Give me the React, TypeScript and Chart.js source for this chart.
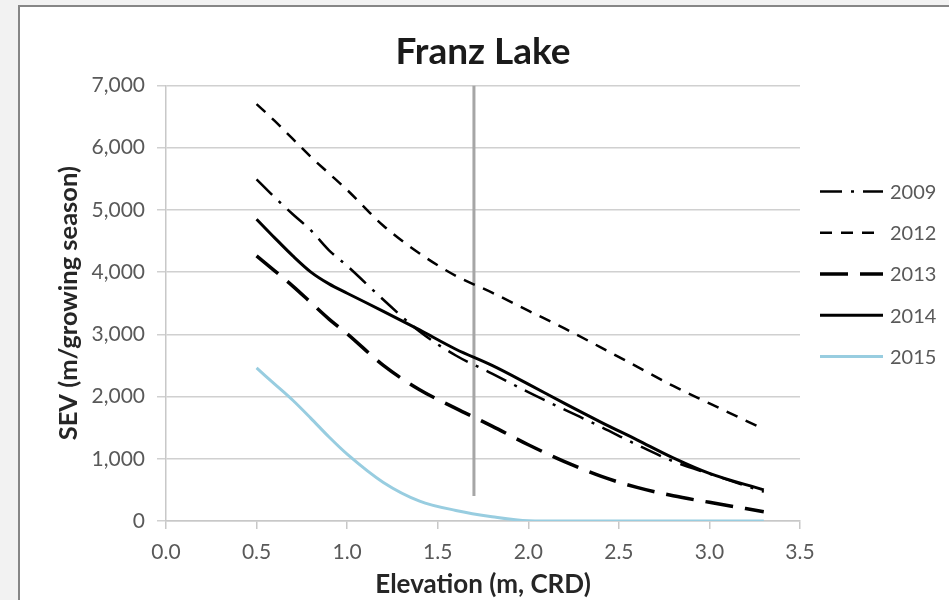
import React, { useEffect, useRef } from "react";
import { Chart, registerables } from "chart.js";

Chart.register(...registerables);

// ---- data ----
const elevation = [0.5, 0.6, 0.7, 0.8, 0.9, 1.0, 1.2, 1.4, 1.6, 1.8, 2.0, 2.2, 2.4, 2.6, 2.8, 3.0, 3.3];
const sev2009 = [5490, 5200, 4930, 4670, 4350, 4100, 3555, 3045, 2660, 2370, 2070, 1790, 1515, 1225, 960, 760, 470];
const sev2012 = [6700, 6430, 6140, 5850, 5585, 5320, 4745, 4300, 3940, 3670, 3380, 3095, 2790, 2480, 2170, 1890, 1475];
const sev2013 = [4260, 4020, 3775, 3510, 3245, 3010, 2500, 2110, 1810, 1525, 1225, 955, 720, 540, 405, 300, 150];
const sev2014 = [4850, 4550, 4260, 4000, 3810, 3660, 3370, 3070, 2760, 2500, 2200, 1890, 1590, 1305, 1015, 765, 500];
const sev2015 = [2460, 2200, 1940, 1650, 1350, 1075, 620, 320, 170, 70, 5, 0, 0, 0, 0, 0, 0];
const years = ["2009", "2012", "2013", "2014", "2015"];

const refElevation = [1.7, 1.7];
const refSev = [400, 7000];

const xTickValues = [0, 0.5, 1.0, 1.5, 2.0, 2.5, 3.0, 3.5];
const yTickValues = [0, 1000, 2000, 3000, 4000, 5000, 6000, 7000];

const chartTitle = "Franz Lake";
const xTitle = "Elevation (m, CRD)";
const yTitle = "SEV (m/growing season)";

const pts = (xs: number[], ys: number[]) => xs.map((x, i) => ({ x, y: ys[i] }));

const frame = {
  id: "frame",
  beforeDraw(chart: any) {
    const ctx = chart.ctx;
    const w = chart.width;
    const h = chart.height;
    ctx.save();
    ctx.fillStyle = "#f2f2f2";
    ctx.fillRect(0, 0, w, h);
    ctx.fillStyle = "#ffffff";
    ctx.fillRect(18, 5, w, h);
    ctx.fillStyle = "#868686";
    ctx.fillRect(18, 5, 2, h);
    ctx.fillRect(18, 5, w, 2);
    ctx.restore();
  },
};

const sideLegend = {
  id: "sideLegend",
  afterDraw(chart: any) {
    const ctx = chart.ctx;
    const { right, top } = chart.chartArea;
    const items = chart.data.datasets.filter((d: any) => d.inLegend);
    ctx.save();
    items.forEach((ds: any, i: number) => {
      const y = top + 106 + i * 41.3;
      const x0 = right + 20;
      ctx.beginPath();
      ctx.setLineDash(ds.borderDash || []);
      ctx.lineWidth = ds.borderWidth;
      ctx.strokeStyle = ds.borderColor;
      ctx.moveTo(x0, y);
      ctx.lineTo(x0 + 63, y);
      ctx.stroke();
      ctx.setLineDash([]);
      ctx.fillStyle = "#595959";
      ctx.font = "20px Lato";
      ctx.textBaseline = "middle";
      ctx.textAlign = "left";
      ctx.fillText(ds.label, x0 + 70, y + 1);
    });
    ctx.restore();
  },
};

export default function App() {
  const ref = useRef<HTMLCanvasElement | null>(null);

  useEffect(() => {
    if (!ref.current) return;
    const series = [sev2009, sev2012, sev2013, sev2014, sev2015];
    const styles = [
      { color: "#000000", width: 2.5, dash: [22, 9, 3, 9] },
      { color: "#000000", width: 2.5, dash: [12, 9] },
      { color: "#000000", width: 3.5, dash: [28, 12] },
      { color: "#000000", width: 3, dash: [] as number[] },
      { color: "#98cde0", width: 3, dash: [] as number[] },
    ];
    const datasets: any[] = series.map((s, i) => ({
      label: years[i],
      data: pts(elevation, s),
      borderColor: styles[i].color,
      borderWidth: styles[i].width,
      borderDash: styles[i].dash,
      pointRadius: 0,
      fill: false,
      cubicInterpolationMode: "monotone",
      inLegend: true,
      order: 5 - i,
    }));
    datasets.push({
      label: "ref",
      data: pts(refElevation, refSev),
      borderColor: "#a6a6a6",
      borderWidth: 3,
      pointRadius: 0,
      fill: false,
      inLegend: false,
      order: 10,
    });

    const font = (size: number, weight?: string) => ({ family: "Lato", size, weight: weight as any });

    const chart = new Chart(ref.current, {
      type: "line",
      data: { datasets },
      plugins: [frame, sideLegend],
      options: {
        animation: false,
        responsive: false,
        maintainAspectRatio: false,
        layout: { padding: { left: 50, right: 149, top: 0, bottom: 0 } },
        plugins: {
          legend: { display: false },
          tooltip: { enabled: false },
          title: {
            display: true,
            text: chartTitle,
            fullSize: false,
            color: "#1a1a1a",
            font: font(37, "bold"),
            padding: { top: 30, bottom: 11 },
          },
        },
        scales: {
          x: {
            type: "linear",
            min: 0,
            max: 3.5,
            afterBuildTicks: (s: any) => {
              s.ticks = xTickValues.map((v) => ({ value: v }));
            },
            afterFit: (s: any) => {
              s.height = 79;
            },
            ticks: {
              callback: (v: any) => Number(v).toFixed(1),
              color: "#595959",
              font: font(21),
              padding: 11,
              maxRotation: 0,
              autoSkip: false,
            },
            grid: { drawOnChartArea: false, tickLength: 8, color: "#c8c8c8", lineWidth: 1.5 },
            border: { color: "#c8c8c8", width: 1.5 },
            title: {
              display: true,
              text: xTitle,
              color: "#262626",
              font: font(26, "bold"),
              padding: { top: 2, bottom: 0 },
            },
          },
          y: {
            type: "linear",
            min: 0,
            max: 7000,
            afterBuildTicks: (s: any) => {
              s.ticks = yTickValues.map((v) => ({ value: v }));
            },
            afterFit: (s: any) => {
              s.width = 116;
            },
            ticks: {
              callback: (v: any) => Number(v).toLocaleString("en-US"),
              color: "#595959",
              font: font(21),
              padding: 12,
            },
            grid: { color: "#d0d0d0", lineWidth: 1.5, tickLength: 9 },
            border: { color: "#c8c8c8", width: 1.5 },
            title: {
              display: true,
              text: yTitle,
              color: "#262626",
              font: font(25.5, "bold"),
              padding: { top: 3, bottom: 0 },
            },
          },
        },
      } as any,
    });
    return () => chart.destroy();
  }, []);

  return (
    <div style={{ position: "fixed", left: 0, top: 0, width: 949, height: 600, overflow: "hidden" }}>
      <canvas ref={ref} width={949} height={600} style={{ position: "absolute", left: 0, top: 0 }} />
    </div>
  );
}
